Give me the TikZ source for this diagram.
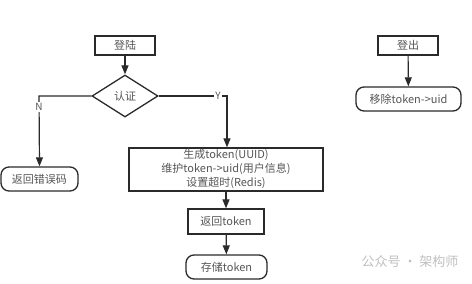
\documentclass[tikz,border=0pt]{standalone}
\usepackage{fontspec}
\setmainfont{Noto Sans CJK SC}
\usetikzlibrary{arrows.meta,shapes.geometric}
\definecolor{ln}{HTML}{2A2A2A}
\definecolor{tx}{HTML}{555555}
\begin{document}
\begin{tikzpicture}[x=1pt,y=-1pt,
  font=\fontsize{11}{14}\selectfont,
  every node/.style={text=tx},
  box/.style={draw=ln,line width=1.3pt,minimum width=#1,inner sep=0pt,align=center},
  rbox/.style={draw=ln,line width=1.3pt,rounded corners=8pt,minimum width=#1,minimum height=24pt,inner sep=0pt},
  dia/.style={draw=ln,line width=1.3pt,diamond,aspect=1.57,minimum width=66pt,minimum height=42pt,inner sep=0pt},
  conn/.style={draw=ln,line width=1.2pt,-{Triangle[length=9pt,width=7pt]}},
  lab/.style={fill=white,inner sep=1pt,font=\fontsize{10}{12}\selectfont}]
\useasboundingbox (0,0) rectangle (472,284);
\node[box=60pt,minimum height=19pt] (login) at (125,45.5) {登陆};
\node[dia] (auth) at (125,96) {认证};
\node[rbox=77pt] (err) at (39.5,179) {返回错误码};
\node[box=194pt,minimum height=43pt] (gen) at (226,169.5) {};
\node at (226,155) {生成token(UUID)};
\node at (226,169) {维护token->uid(用户信息)};
\node at (226,183) {设置超时(Redis)};
\node[box=76pt,minimum height=25pt] (ret) at (226,221.5) {返回token};
\node[rbox=81pt] (store) at (226.5,267) {存储token};
\node[box=60pt,minimum height=19pt] (logout) at (408,45.5) {登出};
\node[rbox=105pt] (rm) at (408.5,99) {移除token->uid};
\coordinate (nc) at (39,96);
\coordinate (yc) at (227,96);
\draw[conn] (login) -- (auth);
\draw[conn] (auth.west) -- (nc) -- (err.north);
\node[lab] (nlab) at (39,107) {N};
\draw[conn] (auth.east) -- (yc) -- (yc |- gen.north);
\node[lab] (ylab) at (218,96) {Y};
\draw[conn] (gen.south -| ret.north) -- (ret.north);
\draw[conn] (ret) -- (store);
\draw[conn] (logout) -- (rm);
\node[text=gray!50,font=\fontsize{13}{15}\selectfont] (wm) at (410,262) {公众号 · 架构师};
\end{tikzpicture}
\end{document}
